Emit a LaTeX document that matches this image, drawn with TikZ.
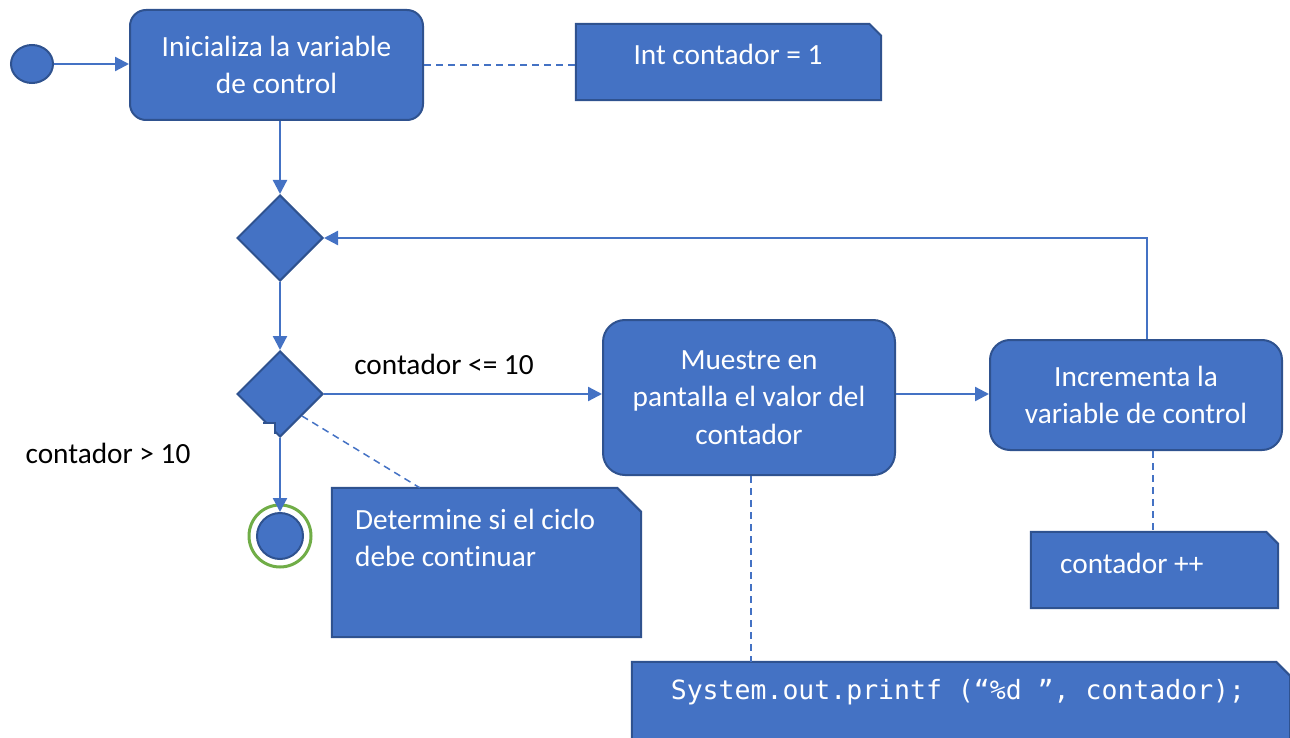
\documentclass[tikz,border=0pt]{standalone}
\usepackage{fontspec}
\setmainfont{Carlito}[Ligatures=CommonOff]
\newfontfamily\codefont{DejaVu Sans Mono}
\usetikzlibrary{arrows.meta,shapes.geometric}

\definecolor{actfill}{HTML}{4472C4}
\definecolor{actline}{HTML}{2F528F}
\definecolor{endring}{HTML}{70AD47}

\begin{document}
\begin{tikzpicture}[x=1pt,y=-1pt,
  every node/.style={font=\fontsize{29.3}{37.5}\selectfont},
  action/.style={draw=actline, line width=2pt, fill=actfill, rounded corners=16pt,
    text=white, align=center, inner sep=0pt},
  notebox/.style={rectangle, inner sep=0pt},
  notefill/.style={draw=actline, line width=2pt, fill=actfill, line join=miter},
  notetext/.style={text=white, align=left, anchor=west, inner sep=0pt},
  decision/.style={diamond, draw=actline, line width=2pt, fill=actfill,
    minimum width=86pt, minimum height=86pt, inner sep=0pt},
  flow/.style={draw=actfill, line width=2.3pt, -{Triangle[length=14pt,width=14pt]}},
  link/.style={draw=actfill, line width=1.5pt, dash pattern=on 7pt off 5pt},
  guard/.style={text=black, inner sep=0pt}
]
\useasboundingbox (0,0) rectangle (1290,738);

% initial and final states
\node[ellipse, draw=actline, line width=2pt, fill=actfill,
  minimum width=42pt, minimum height=38pt, inner sep=0pt] (start) at (32,64) {};
\node[circle, draw=actline, line width=2pt, fill=actfill,
  minimum size=46pt, inner sep=0pt] (end) at (280,536) {};
\draw[endring, line width=3pt] (end.center) circle (31pt);

% activities
\node[action, minimum width=293pt, minimum height=110pt] (init) at (276.5,65)
  {Inicializa la variable\\de control};
\node[action, minimum width=292pt, minimum height=155pt, rounded corners=22pt] (show) at (749,397.5)
  {Muestre en\\pantalla el valor del\\contador};
\node[action, minimum width=292pt, minimum height=110pt, rounded corners=20pt] (incr) at (1136,395)
  {Incrementa la\\variable de control};

% decision nodes
\node[decision] (d1) at (280,238) {};
\node[decision] (d2) at (280,394) {};
\fill[white] (264,423) rectangle (275,441);
\draw[actline, line width=2pt] (263,423) -- (275,423) -- (275,434);

% notes: outline boxes with a clipped upper right corner
\node[notebox, minimum width=305pt, minimum height=76pt] (n1) at (728.5,62) {};
\filldraw[notefill] (n1.south west) -- (n1.north west) -- ([xshift=-12pt]n1.north east)
  -- ([yshift=-12pt]n1.north east) -- (n1.south east) -- cycle;
\node[text=white, inner sep=0pt] (n1t) at (728,54) {Int contador = 1};

\node[notebox, minimum width=309pt, minimum height=149pt] (n2) at (486.5,562.5) {};
\filldraw[notefill] (n2.south west) -- (n2.north west) -- ([xshift=-24pt]n2.north east)
  -- ([yshift=-24pt]n2.north east) -- (n2.south east) -- cycle;
\node[notetext] (n2t) at (355,538) {Determine si el ciclo\\debe continuar};

\node[notebox, minimum width=247pt, minimum height=76pt] (n3) at (1154.5,570) {};
\filldraw[notefill] (n3.south west) -- (n3.north west) -- ([xshift=-12pt]n3.north east)
  -- ([yshift=-12pt]n3.north east) -- (n3.south east) -- cycle;
\node[notetext] (n3t) at (1060,563) {contador ++};

\node[notebox, minimum width=658pt, minimum height=110pt] (n4) at (961,717) {};
\filldraw[notefill] (n4.south west) -- (n4.north west) -- ([xshift=-14pt]n4.north east)
  -- ([yshift=-14pt]n4.north east) -- (n4.south east) -- cycle;
\node[text=white, inner sep=0pt, font=\codefont\fontsize{26.5}{30}\selectfont] (n4t) at (958,692)
  {System.out.printf (“\%d ”, contador);};

% guard labels
\node[guard] (gyes) at (444,364) {contador <= 10};
\node[guard] (gno) at (108,453) {contador > 10};

% control flow
\draw[flow] (start.east) -- (start.east -| init.west);
\draw[flow] (d1 |- init.south) -- (d1.north);
\draw[flow] (d1.south) -- (d2.north);
\draw[flow] (d2.east) -- (d2.east -| show.west);
\draw[flow] (d2 -| show.east) -- (d2 -| incr.west);
\coordinate (back) at ([xshift=11pt]incr.north);
\draw[flow] (back) |- (d1.east);
\draw[flow] (d2.south) -- (end.north);

% note attachments
\draw[link] (init.east) -- (init.east -| n1.west);
\coordinate (n2top) at ([xshift=88pt]n2.north west);
\draw[link] (d2.south east) -- (n2top);
\draw[link] ([xshift=2pt]show.south) -- ([xshift=2pt]show.south |- n4.north);
\coordinate (n3top) at ([xshift=17pt]incr.south);
\draw[link] (n3top) -- (n3top |- n3.north);
\end{tikzpicture}
\end{document}
